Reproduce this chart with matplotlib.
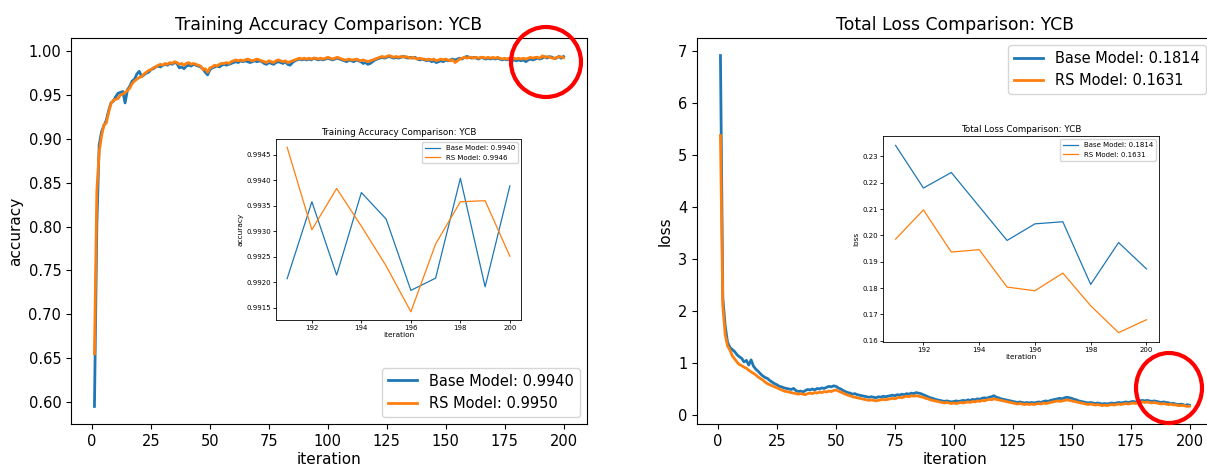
import matplotlib
matplotlib.use("Agg")
import matplotlib.pyplot as plt
from matplotlib.patches import Ellipse
import numpy as np

# iterations 1..200
iterations = np.arange(1, 201)

acc_base = [
    0.595, 0.800, 0.893, 0.908, 0.915, 0.921, 0.932, 0.941, 0.943, 0.948,
    0.952, 0.953, 0.954, 0.941, 0.956, 0.960, 0.966, 0.968, 0.974, 0.977,
    0.971, 0.973, 0.975, 0.976, 0.979, 0.980, 0.982, 0.983, 0.982, 0.984,
    0.985, 0.984, 0.986, 0.985, 0.987, 0.986, 0.981, 0.982, 0.980, 0.983,
    0.984, 0.983, 0.985, 0.984, 0.983, 0.982, 0.980, 0.976, 0.973, 0.979,
    0.981, 0.982, 0.983, 0.982, 0.984, 0.985, 0.984, 0.985, 0.986, 0.987,
    0.988, 0.987, 0.989, 0.988, 0.989, 0.988, 0.987, 0.988, 0.989, 0.988,
    0.989, 0.988, 0.986, 0.985, 0.987, 0.986, 0.985, 0.987, 0.988, 0.987,
    0.986, 0.988, 0.985, 0.984, 0.987, 0.989, 0.990, 0.991, 0.990, 0.991,
    0.990, 0.991, 0.990, 0.992, 0.991, 0.990, 0.991, 0.990, 0.991, 0.992,
    0.991, 0.990, 0.991, 0.992, 0.991, 0.990, 0.989, 0.988, 0.990, 0.989,
    0.988, 0.990, 0.989, 0.988, 0.986, 0.987, 0.985, 0.986, 0.988, 0.990,
    0.991, 0.992, 0.993, 0.992, 0.993, 0.994, 0.993, 0.992, 0.993, 0.992,
    0.993, 0.994, 0.993, 0.992, 0.993, 0.992, 0.993, 0.991, 0.990, 0.991,
    0.990, 0.989, 0.990, 0.988, 0.989, 0.987, 0.988, 0.989, 0.988, 0.990,
    0.989, 0.990, 0.991, 0.990, 0.991, 0.992, 0.991, 0.993, 0.994, 0.993,
    0.992, 0.993, 0.992, 0.991, 0.993, 0.992, 0.991, 0.992, 0.991, 0.992,
    0.991, 0.992, 0.991, 0.990, 0.991, 0.990, 0.991, 0.989, 0.990, 0.989,
    0.990, 0.989, 0.990, 0.988, 0.990, 0.991, 0.990, 0.991, 0.992, 0.991,
    0.99207, 0.99358, 0.99214, 0.99376, 0.99324, 0.99184, 0.99208, 0.99404, 0.99191, 0.99389,
]

acc_rs = [
    0.655, 0.840, 0.885, 0.903, 0.916, 0.918, 0.930, 0.940, 0.944, 0.945,
    0.946, 0.950, 0.951, 0.953, 0.955, 0.958, 0.963, 0.966, 0.968, 0.970,
    0.971, 0.974, 0.976, 0.978, 0.979, 0.981, 0.982, 0.984, 0.985, 0.984,
    0.986, 0.985, 0.987, 0.986, 0.988, 0.987, 0.985, 0.986, 0.984, 0.986,
    0.987, 0.985, 0.986, 0.985, 0.984, 0.983, 0.979, 0.980, 0.976, 0.981,
    0.982, 0.984, 0.983, 0.985, 0.986, 0.986, 0.987, 0.986, 0.988, 0.989,
    0.990, 0.989, 0.990, 0.989, 0.990, 0.991, 0.990, 0.989, 0.990, 0.991,
    0.990, 0.989, 0.988, 0.987, 0.989, 0.988, 0.987, 0.989, 0.990, 0.989,
    0.988, 0.989, 0.987, 0.988, 0.989, 0.990, 0.991, 0.992, 0.991, 0.992,
    0.991, 0.992, 0.991, 0.992, 0.992, 0.991, 0.992, 0.991, 0.992, 0.993,
    0.992, 0.991, 0.992, 0.993, 0.992, 0.991, 0.990, 0.990, 0.991, 0.990,
    0.990, 0.991, 0.990, 0.989, 0.990, 0.989, 0.988, 0.989, 0.990, 0.991,
    0.992, 0.993, 0.994, 0.993, 0.994, 0.995, 0.994, 0.993, 0.994, 0.993,
    0.994, 0.993, 0.994, 0.993, 0.992, 0.993, 0.992, 0.991, 0.992, 0.991,
    0.991, 0.990, 0.991, 0.990, 0.991, 0.989, 0.990, 0.991, 0.990, 0.991,
    0.990, 0.989, 0.990, 0.987, 0.989, 0.991, 0.992, 0.993, 0.992, 0.993,
    0.993, 0.992, 0.993, 0.992, 0.993, 0.993, 0.992, 0.993, 0.992, 0.993,
    0.992, 0.993, 0.992, 0.991, 0.992, 0.991, 0.992, 0.991, 0.992, 0.991,
    0.992, 0.991, 0.992, 0.991, 0.992, 0.993, 0.992, 0.993, 0.993, 0.992,
    0.99465, 0.99303, 0.99384, 0.99310, 0.99232, 0.99142, 0.99275, 0.99358, 0.99360, 0.99251,
]

loss_base = [
    6.92, 2.25, 1.72, 1.40, 1.30, 1.26, 1.22, 1.16, 1.12, 1.09,
    1.02, 1.05, 0.96, 1.06, 0.94, 0.88, 0.84, 0.79, 0.75, 0.72,
    0.70, 0.66, 0.63, 0.60, 0.58, 0.55, 0.54, 0.52, 0.51, 0.50,
    0.49, 0.51, 0.47, 0.45, 0.46, 0.44, 0.47, 0.49, 0.48, 0.50,
    0.48, 0.51, 0.50, 0.52, 0.51, 0.53, 0.55, 0.54, 0.56, 0.55,
    0.52, 0.50, 0.47, 0.45, 0.43, 0.42, 0.40, 0.41, 0.39, 0.38,
    0.37, 0.36, 0.35, 0.34, 0.35, 0.34, 0.33, 0.35, 0.34, 0.36,
    0.35, 0.36, 0.37, 0.38, 0.37, 0.39, 0.38, 0.40, 0.39, 0.41,
    0.40, 0.42, 0.41, 0.43, 0.42, 0.41, 0.39, 0.37, 0.35, 0.33,
    0.32, 0.30, 0.29, 0.28, 0.27, 0.26, 0.27, 0.26, 0.25, 0.26,
    0.27, 0.26, 0.27, 0.28, 0.27, 0.29, 0.28, 0.30, 0.29, 0.31,
    0.30, 0.32, 0.33, 0.32, 0.34, 0.35, 0.37, 0.34, 0.33, 0.31,
    0.30, 0.29, 0.28, 0.27, 0.26, 0.25, 0.24, 0.25, 0.24, 0.23,
    0.24, 0.23, 0.24, 0.23, 0.24, 0.25, 0.24, 0.26, 0.27, 0.26,
    0.28, 0.29, 0.30, 0.31, 0.32, 0.31, 0.33, 0.34, 0.33, 0.32,
    0.30, 0.29, 0.27, 0.26, 0.25, 0.24, 0.23, 0.24, 0.23, 0.22,
    0.23, 0.22, 0.21, 0.22, 0.21, 0.22, 0.23, 0.22, 0.23, 0.24,
    0.23, 0.24, 0.25, 0.24, 0.25, 0.26, 0.25, 0.26, 0.27, 0.28,
    0.27, 0.28, 0.27, 0.26, 0.27, 0.26, 0.25, 0.24, 0.25, 0.24,
    0.2342, 0.2180, 0.2239, 0.2110, 0.1981, 0.2044, 0.2052, 0.1814, 0.1973, 0.1873,
]

loss_rs = [
    5.38, 2.10, 1.55, 1.33, 1.25, 1.14, 1.08, 1.02, 0.97, 0.95,
    0.92, 0.90, 0.86, 0.83, 0.80, 0.77, 0.73, 0.70, 0.67, 0.63,
    0.60, 0.58, 0.56, 0.54, 0.52, 0.50, 0.48, 0.46, 0.45, 0.44,
    0.43, 0.42, 0.41, 0.40, 0.41, 0.40, 0.39, 0.41, 0.42, 0.41,
    0.43, 0.42, 0.44, 0.43, 0.45, 0.44, 0.46, 0.45, 0.47, 0.48,
    0.46, 0.44, 0.42, 0.40, 0.38, 0.37, 0.35, 0.34, 0.33, 0.32,
    0.31, 0.30, 0.29, 0.28, 0.29, 0.28, 0.27, 0.28, 0.29, 0.30,
    0.29, 0.30, 0.31, 0.32, 0.31, 0.33, 0.34, 0.33, 0.35, 0.36,
    0.35, 0.37, 0.36, 0.37, 0.36, 0.35, 0.34, 0.32, 0.31, 0.29,
    0.28, 0.27, 0.26, 0.25, 0.24, 0.23, 0.24, 0.23, 0.22, 0.23,
    0.22, 0.23, 0.24, 0.23, 0.24, 0.25, 0.24, 0.26, 0.25, 0.27,
    0.26, 0.28, 0.27, 0.29, 0.30, 0.29, 0.31, 0.30, 0.29, 0.28,
    0.27, 0.26, 0.25, 0.24, 0.23, 0.22, 0.21, 0.22, 0.21, 0.20,
    0.21, 0.20, 0.21, 0.20, 0.21, 0.22, 0.21, 0.23, 0.22, 0.23,
    0.24, 0.25, 0.26, 0.27, 0.26, 0.27, 0.28, 0.29, 0.28, 0.27,
    0.26, 0.25, 0.24, 0.23, 0.22, 0.21, 0.20, 0.21, 0.20, 0.19,
    0.20, 0.19, 0.18, 0.19, 0.18, 0.19, 0.20, 0.19, 0.20, 0.21,
    0.20, 0.21, 0.22, 0.21, 0.22, 0.23, 0.22, 0.23, 0.24, 0.25,
    0.24, 0.25, 0.24, 0.23, 0.24, 0.23, 0.22, 0.21, 0.22, 0.21,
    0.1986, 0.2097, 0.1937, 0.1946, 0.1804, 0.1790, 0.1857, 0.1733, 0.1631, 0.1680,
]

acc_labels = ["Base Model: 0.9940", "RS Model: 0.9950"]
acc_inset_labels = ["Base Model: 0.9940", "RS Model: 0.9946"]
loss_labels = ["Base Model: 0.1814", "RS Model: 0.1631"]

BLUE = "#1f77b4"
ORANGE = "#ff7f0e"
W, H = 1207, 466

fig = plt.figure(figsize=(W / 100, H / 100), dpi=100)


def px_box(x0, y0, x1, y1):
    # pixel box (top-left origin) -> figure fraction rect
    return [x0 / W, (H - y1) / H, (x1 - x0) / W, (y1 - y0) / H]


def draw_main(rect, base, rs, labels, title, ylabel, loc):
    ax = fig.add_axes(rect)
    ax.plot(iterations, base, color=BLUE, lw=2.0, label=labels[0])
    ax.plot(iterations, rs, color=ORANGE, lw=2.0, label=labels[1])
    ax.set_title(title, fontsize=12.4)
    ax.set_xlabel("iteration", fontsize=11, labelpad=2)
    ax.set_ylabel(ylabel, fontsize=11)
    ax.set_xticks(range(0, 201, 25))
    ax.tick_params(labelsize=10.5)
    ax.legend(loc=loc, fontsize=10.5)
    return ax


def draw_inset(rect, base, rs, labels, title, ylabel):
    ax = fig.add_axes(rect)
    ax.plot(iterations[-10:], base[-10:], color=BLUE, lw=0.9, label=labels[0])
    ax.plot(iterations[-10:], rs[-10:], color=ORANGE, lw=0.9, label=labels[1])
    ax.set_title(title, fontsize=6.3, pad=3)
    ax.set_xlabel("iteration", fontsize=5.3, labelpad=1)
    ax.set_ylabel(ylabel, fontsize=5.3, labelpad=2)
    ax.set_xticks(range(192, 201, 2))
    ax.tick_params(labelsize=5, length=2, width=0.6, pad=1.5)
    for s in ax.spines.values():
        s.set_linewidth(0.6)
    ax.legend(loc="upper right", fontsize=5, handlelength=2.2)
    return ax


ax1 = draw_main(px_box(71, 38, 587, 424), acc_base, acc_rs, acc_labels,
                "Training Accuracy Comparison: YCB", "accuracy", "lower right")
ax2 = draw_main(px_box(697, 38, 1213, 424), loss_base, loss_rs, loss_labels,
                "Total Loss Comparison: YCB", "loss", "upper right")
ax2.set_yticks(range(0, 8))

ins1 = draw_inset(px_box(276, 139, 521, 320), acc_base, acc_rs, acc_inset_labels,
                  "Training Accuracy Comparison: YCB", "accuracy")
ins1.set_yticks([0.9915, 0.9920, 0.9925, 0.9930, 0.9935, 0.9940, 0.9945])
ins1.yaxis.set_major_formatter(matplotlib.ticker.FormatStrFormatter("%.4f"))
ins2 = draw_inset(px_box(883, 136, 1159, 342), loss_base, loss_rs, loss_labels,
                  "Total Loss Comparison: YCB", "loss")

# red highlight circles
for cx, cy, rx, ry in [(546, 62, 35, 35), (1169, 388, 33, 35)]:
    fig.patches.append(Ellipse((cx / W, 1 - cy / H), 2 * rx / W, 2 * ry / H,
                               transform=fig.transFigure, fill=False,
                               edgecolor="red", lw=3, zorder=10))

fig.savefig("out.png", dpi=100)
